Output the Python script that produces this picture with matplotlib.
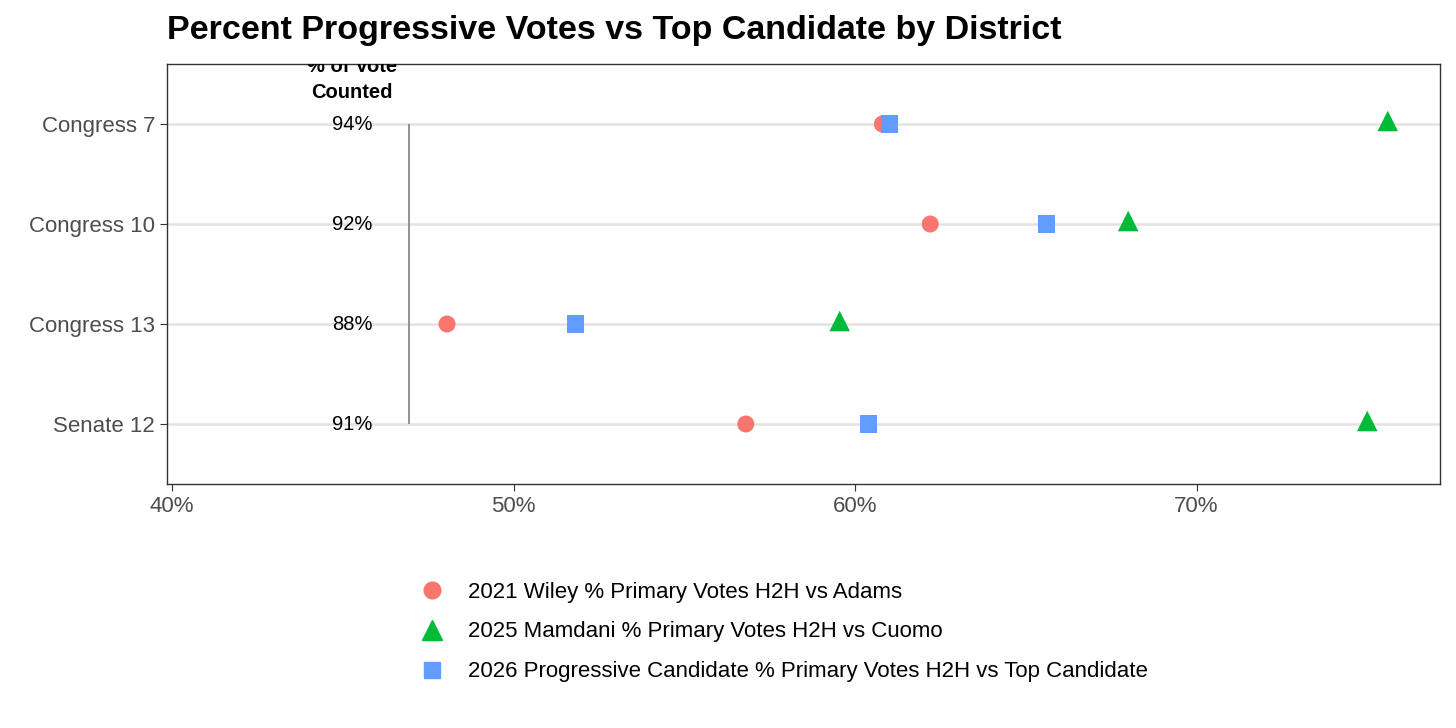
import matplotlib.pyplot as plt
from matplotlib.lines import Line2D

plt.rcParams['font.family'] = ['Arial', 'Liberation Sans', 'DejaVu Sans']

districts = ["Congress 7", "Congress 10", "Congress 13", "Senate 12"]
counted = ["94%", "92%", "88%", "91%"]
wiley = [60.8, 62.2, 48.05, 56.8]
mamdani = [75.6, 68.0, 59.55, 75.0]
prog = [61.0, 65.6, 51.8, 60.4]

fig = plt.figure(figsize=(14.56, 7.28), dpi=100)
ax = fig.add_axes([167/1456, 1-484/728, (1440-167)/1456, (484-64)/728])

y = list(range(len(districts)))
for yi in y:
    ax.axhline(yi, color='#e3e3e3', lw=1.8, zorder=0)

ax.scatter(wiley, y, color='#F8766D', s=150, marker='o', zorder=3, edgecolors='none')
ax.scatter(mamdani, [v - 0.03 for v in y], color='#00BA38', s=220, marker='^', zorder=3, edgecolors='none')
ax.scatter(prog, y, color='#619CFF', s=150, marker='s', zorder=3, edgecolors='none')

ax.vlines(46.94, 0, 3, color='#808080', lw=1.2)
for yi, c in zip(y, counted):
    ax.text(45.27, yi, c, ha='center', va='center', fontsize=14.5)
ax.text(45.27, -0.22, "% of Vote\nCounted", ha='center', va='bottom', fontsize=14.5,
        fontweight='bold', linespacing=1.5, clip_on=True)

ax.set_xlim(39.85, 77.13)
ax.set_ylim(3.6, -0.6)
ax.set_yticks(y)
ax.set_yticklabels(districts, fontsize=16, color='#4d4d4d')
ax.set_xticks([40, 50, 60, 70])
ax.set_xticklabels(["40%", "50%", "60%", "70%"], fontsize=16, color='#4d4d4d')
ax.tick_params(length=5, color='#333333')
for s in ax.spines.values():
    s.set_color('#333333')
    s.set_linewidth(1)

fig.text(167/1456, 1-30/728, "Percent Progressive Votes vs Top Candidate by District",
         fontsize=24.5, fontweight='bold', va='center')

handles = [
    Line2D([0], [0], marker='o', color='#F8766D', ls='none', ms=12, label='2021 Wiley % Primary Votes H2H vs Adams'),
    Line2D([0], [0], marker='^', color='#00BA38', ls='none', ms=14, label='2025 Mamdani % Primary Votes H2H vs Cuomo'),
    Line2D([0], [0], marker='s', color='#619CFF', ls='none', ms=12, label='2026 Progressive Candidate % Primary Votes H2H vs Top Candidate'),
]
fig.legend(handles=handles, loc='center left', bbox_to_anchor=(390/1456, 1-632/728),
           frameon=False, fontsize=16, labelspacing=0.85, handletextpad=0.6)

fig.savefig("out.png", dpi=100)
